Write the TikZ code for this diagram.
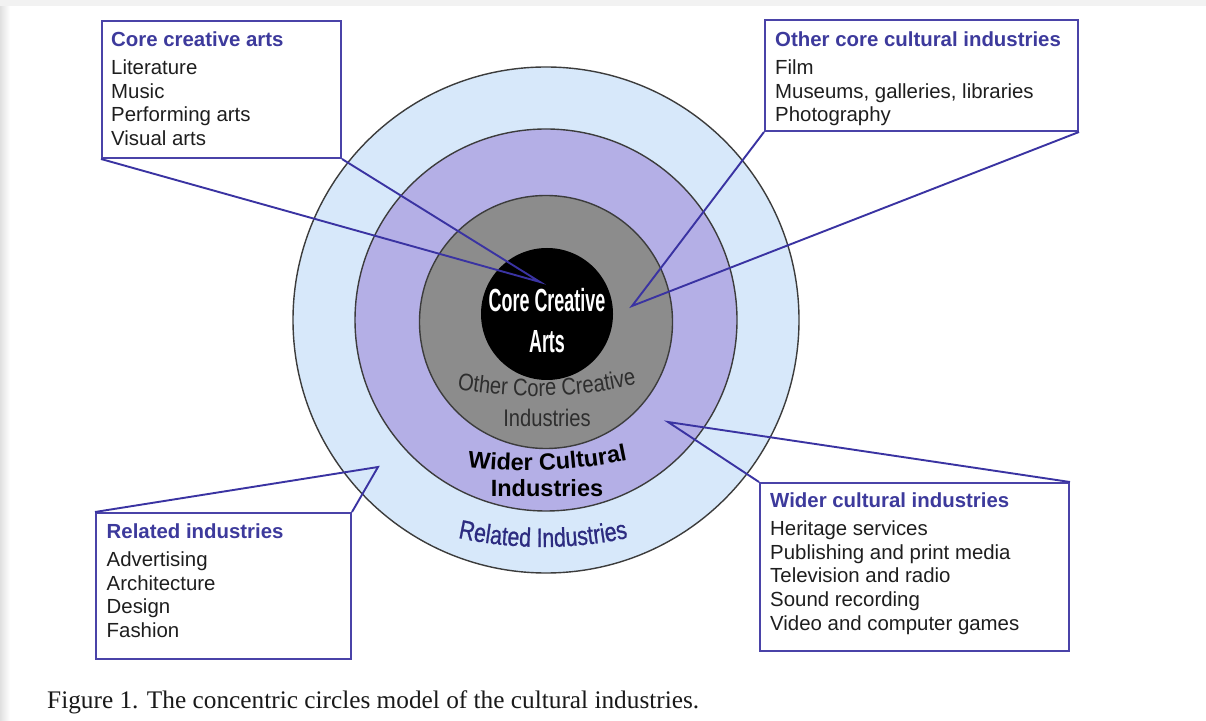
\documentclass[tikz,border=0pt]{standalone}
\usepackage{fontspec}
\setmainfont{Liberation Sans}
\newfontfamily\coreface[FakeStretch=0.56]{Liberation Sans}
\newfontfamily\ringface[FakeStretch=0.84]{Liberation Sans}
\newfontfamily\relface[FakeStretch=0.8, FakeBold=0.8]{Liberation Sans}
\newfontfamily\capface{Liberation Serif}
\usetikzlibrary{decorations.text}

\definecolor{ringblue}{HTML}{D7E8FA}
\definecolor{ringviolet}{HTML}{B4AFE6}
\definecolor{ringgray}{HTML}{8C8C8C}
\definecolor{edgegray}{HTML}{3C3C3C}
\definecolor{boxline}{HTML}{4A43A8}
\definecolor{pointer}{HTML}{3A33A2}
\definecolor{headline}{HTML}{3D3A9C}
\definecolor{relnavy}{HTML}{2C2B80}
\definecolor{bodytext}{HTML}{1E1E1E}
\definecolor{ocgray}{HTML}{2E2E2E}

\tikzset{
  ring/.style={circle, draw=edgegray, line width=1.4pt, inner sep=0pt},
  infobox/.style={draw=boxline, fill=white, line width=2pt, inner sep=0pt, anchor=north west},
  listtext/.style={anchor=north west, align=left, inner sep=0pt, text=bodytext,
    font=\fontsize{20.4}{23.6}\selectfont},
  callout/.style={draw=pointer, line width=1.9pt, line join=miter},
}
\newcommand{\boxhead}[1]{\textcolor{headline}{\bfseries #1}}

\begin{document}
\begin{tikzpicture}[x=1pt, y=1pt]
\useasboundingbox (0,0) rectangle (1206,720);
\fill[white] (0,0) rectangle (1206,720);
% page edge shading
\shade[left color=black!12, right color=white] (0,0) rectangle (10,714);
\fill[black!5] (0,714) rectangle (1206,720);

% concentric circles
\coordinate (ctr) at (546,400);
\node[ring, fill=ringblue,   minimum size=506pt] (related) at (ctr) {};
\node[ring, fill=ringviolet, minimum size=382pt] (wider)   at (ctr) {};
\node[ring, fill=ringgray,   minimum size=253pt] (othercore) at (546,398) {};
\node[circle, fill=black, inner sep=0pt, minimum size=132pt] (core) at (547,406) {};

% labels inside the circles
\node[anchor=base, text=white, inner sep=0pt, font=\coreface\bfseries\fontsize{32}{36}\selectfont] (coreA) at (547,408) {Core Creative};
\node[anchor=base, text=white, inner sep=0pt, font=\coreface\bfseries\fontsize{32}{36}\selectfont] (coreB) at (547,367) {Arts};

\path[decorate, decoration={text along path, text align=center,
  text={|\ringface\fontsize{24}{28}\selectfont\color{ocgray}|Other Core Creative}}]
  (535.2,773.9) ++(241.5:450pt) arc[start angle=241.5, end angle=301.5, radius=450pt];
\node[anchor=base, inner sep=0pt, text=ocgray, font=\ringface\fontsize{24}{28}\selectfont] (ocind) at (547,293) {Industries};

\path[decorate, decoration={text along path, text align=center,
  text={|\bfseries\fontsize{23.5}{28}\selectfont|Wider Cultural}}]
  (526,749.5) ++(242.5:500pt) arc[start angle=242.5, end angle=302.5, radius=500pt];
\node[anchor=base, inner sep=0pt, font=\bfseries\fontsize{23.5}{28}\selectfont] (wcind) at (547,223) {Industries};

\path[decorate, decoration={text along path, text align=center,
  text={|\relface\fontsize{26.6}{30}\selectfont\color{relnavy}|Related Industries}}]
  (543,573) ++(240:400pt) arc[start angle=240, end angle=300, radius=400pt];

% callout tips
\coordinate (tipA) at (540,438);
\coordinate (tipB) at (632,414);
\coordinate (tipC) at (378,253);
\coordinate (tipD) at (668,298);

% callout boxes
\node[infobox, minimum width=239pt, minimum height=137pt] (boxA) at (101,700) {};
\node[infobox, minimum width=313pt, minimum height=111pt] (boxB) at (764,701) {};
\node[infobox, minimum width=255pt, minimum height=146pt] (boxC) at (95,208) {};
\node[infobox, minimum width=309pt, minimum height=168pt] (boxD) at (759,238) {};

\draw[callout] (boxA.south west) -- (tipA) -- (boxA.south east);
\draw[callout] (boxB.south west) -- (tipB) -- (boxB.south east);
\draw[callout] (boxC.north west) -- (tipC) -- (boxC.north east);
\draw[callout] (boxD.north west) -- (tipD) -- (boxD.north east);

\node[listtext] (listA) at (111,688.6) {\boxhead{Core creative arts}\\[4.7pt]
  Literature\\ Music\\ Performing arts\\ Visual arts};
\node[listtext] (listB) at (775,688.6) {\boxhead{Other core cultural industries}\\[4.7pt]
  Film\\ Museums, galleries, libraries\\ Photography};
\node[listtext] (listC) at (106.5,196.5) {\boxhead{Related industries}\\[4.7pt]
  Advertising\\ Architecture\\ Design\\ Fashion};
\node[listtext] (listD) at (770,227.5) {\boxhead{Wider cultural industries}\\[4.7pt]
  Heritage services\\ Publishing and print media\\ Television and radio\\ Sound recording\\ Video and computer games};

% caption
\node[anchor=base west, inner sep=0pt, text=black!90, font=\capface\fontsize{25.3}{30}\selectfont] (caption) at (47,12)
  {Figure 1. The concentric circles model of the cultural industries.};
\end{tikzpicture}
\end{document}
